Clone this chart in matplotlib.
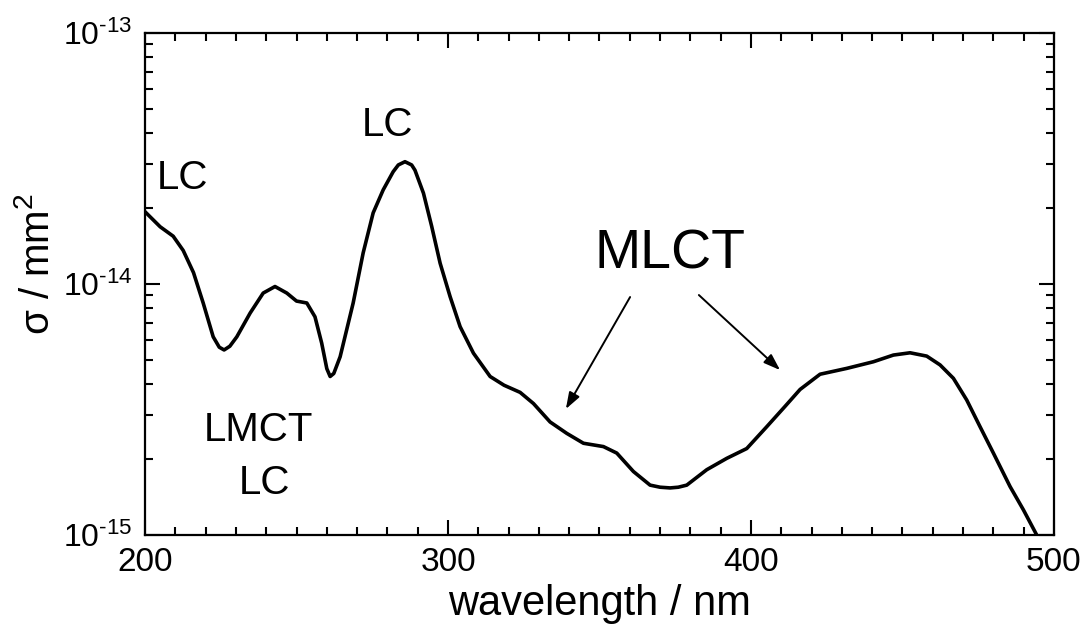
import numpy as np
import matplotlib
matplotlib.use('Agg')
import matplotlib.pyplot as plt
from matplotlib.ticker import LogLocator, NullFormatter, MultipleLocator

plt.rcParams['font.family'] = ['Liberation Sans', 'DejaVu Sans']
plt.rcParams['mathtext.fontset'] = 'custom'
plt.rcParams['mathtext.rm'] = 'Liberation Sans'
plt.rcParams['mathtext.it'] = 'Liberation Sans'
plt.rcParams['mathtext.default'] = 'regular'

# wavelength (nm) and cross section (mm^2)
wavelength = [200, 205, 209.3, 212.6, 216, 219.2, 222.5, 224.5, 226.1, 228, 230.3, 234.7,
              239, 242.9, 246.8, 250, 253.4, 256.1, 258.3, 260, 261.1, 262.3, 264.4, 268.7,
              272, 275.3, 278.6, 281.9, 283.6, 285.8, 288, 289.1, 291.9, 294.6, 297.4, 300.7,
              304, 308.4, 313.9, 318.5, 323.8, 328.2, 333.7, 339.2, 344.7, 351.3,
              355.7, 361.2, 366.7, 370, 373.3, 376, 378.8, 385.4, 392, 398.6, 405.2, 411.2,
              416.2, 422.8, 431.6, 440.4, 447, 452.5, 458, 462.4, 466.8, 471.2,
              475.6, 480, 485.5, 489.9, 494.3, 497]
sigma = [1.94e-14, 1.69e-14, 1.55e-14, 1.36e-14, 1.11e-14, 8.4e-15, 6.16e-15, 5.6e-15, 5.46e-15, 5.65e-15, 6.16e-15, 7.66e-15,
         9.2e-15, 9.77e-15, 9.2e-15, 8.55e-15, 8.4e-15, 7.4e-15, 5.82e-15, 4.6e-15, 4.28e-15, 4.4e-15, 5.13e-15, 8.4e-15,
         1.33e-14, 1.92e-14, 2.37e-14, 2.8e-14, 2.98e-14, 3.07e-14, 2.98e-14, 2.84e-14, 2.3e-14, 1.7e-14, 1.21e-14, 8.9e-15,
         6.76e-15, 5.3e-15, 4.28e-15, 3.95e-15, 3.7e-15, 3.34e-15, 2.82e-15, 2.54e-15, 2.32e-15, 2.25e-15,
         2.12e-15, 1.79e-15, 1.58e-15, 1.55e-15, 1.54e-15, 1.55e-15, 1.58e-15, 1.82e-15, 2.02e-15, 2.21e-15, 2.7e-15, 3.25e-15,
         3.8e-15, 4.37e-15, 4.61e-15, 4.9e-15, 5.21e-15, 5.32e-15, 5.16e-15, 4.76e-15, 4.21e-15, 3.45e-15,
         2.7e-15, 2.12e-15, 1.56e-15, 1.26e-15, 1.0e-15, 0.85e-15]
y_ticks = [1e-15, 1e-14, 1e-13]
y_ticklabels = [r'$10^{\text{-}15}$', r'$10^{\text{-}14}$', r'$10^{\text{-}13}$']

fig = plt.figure(figsize=(10.83, 6.28), dpi=100)
ax = fig.add_axes([0.1339, 0.1481, 0.8393, 0.7994])

ax.plot(wavelength, sigma, color='black', linewidth=2.6, solid_joinstyle='round')

ax.set_yscale('log')
ax.set_xlim(200, 500)
ax.set_ylim(1e-15, 1e-13)

ax.xaxis.set_major_locator(MultipleLocator(100))
ax.xaxis.set_minor_locator(MultipleLocator(10))
ax.yaxis.set_minor_locator(LogLocator(base=10, subs=np.arange(2, 10)))
ax.yaxis.set_minor_formatter(NullFormatter())
ax.set_yticks(y_ticks)
ax.set_yticklabels(y_ticklabels)

ax.tick_params(which='both', direction='in', top=True, right=True, width=1.5)
ax.tick_params(which='major', length=11)
ax.tick_params(axis='x', which='major', pad=9, labelsize=24)
ax.tick_params(axis='y', which='major', pad=9, labelsize=23)
ax.tick_params(which='minor', length=6)
for s in ax.spines.values():
    s.set_linewidth(1.6)

ax.set_xlabel('wavelength / nm', fontsize=30, labelpad=4)
ax.set_ylabel(r'σ / mm$^2$', fontsize=29)
ax.yaxis.set_label_coords(-0.097, 0.54)

ax.text(212.4, 2.64e-14, 'LC', fontsize=29, ha='center', va='center')
ax.text(279.9, 4.3e-14, 'LC', fontsize=29, ha='center', va='center')
ax.text(237.6, 2.62e-15, 'LMCT', fontsize=29, ha='center', va='center')
ax.text(239.3, 1.61e-15, 'LC', fontsize=29, ha='center', va='center')
ax.text(373.3, 1.31e-14, 'MLCT', fontsize=40, ha='center', va='center')

arrow = dict(arrowstyle='-|>,head_length=1.0,head_width=0.35', color='black',
             linewidth=1.4, shrinkA=0, shrinkB=0)
ax.annotate('', xy=(338.9, 10**-14.498), xytext=(360.1, 10**-14.052), arrowprops=arrow)
ax.annotate('', xy=(409.6, 10**-14.343), xytext=(382.8, 10**-14.044), arrowprops=arrow)

fig.savefig('out.png', dpi=100)
